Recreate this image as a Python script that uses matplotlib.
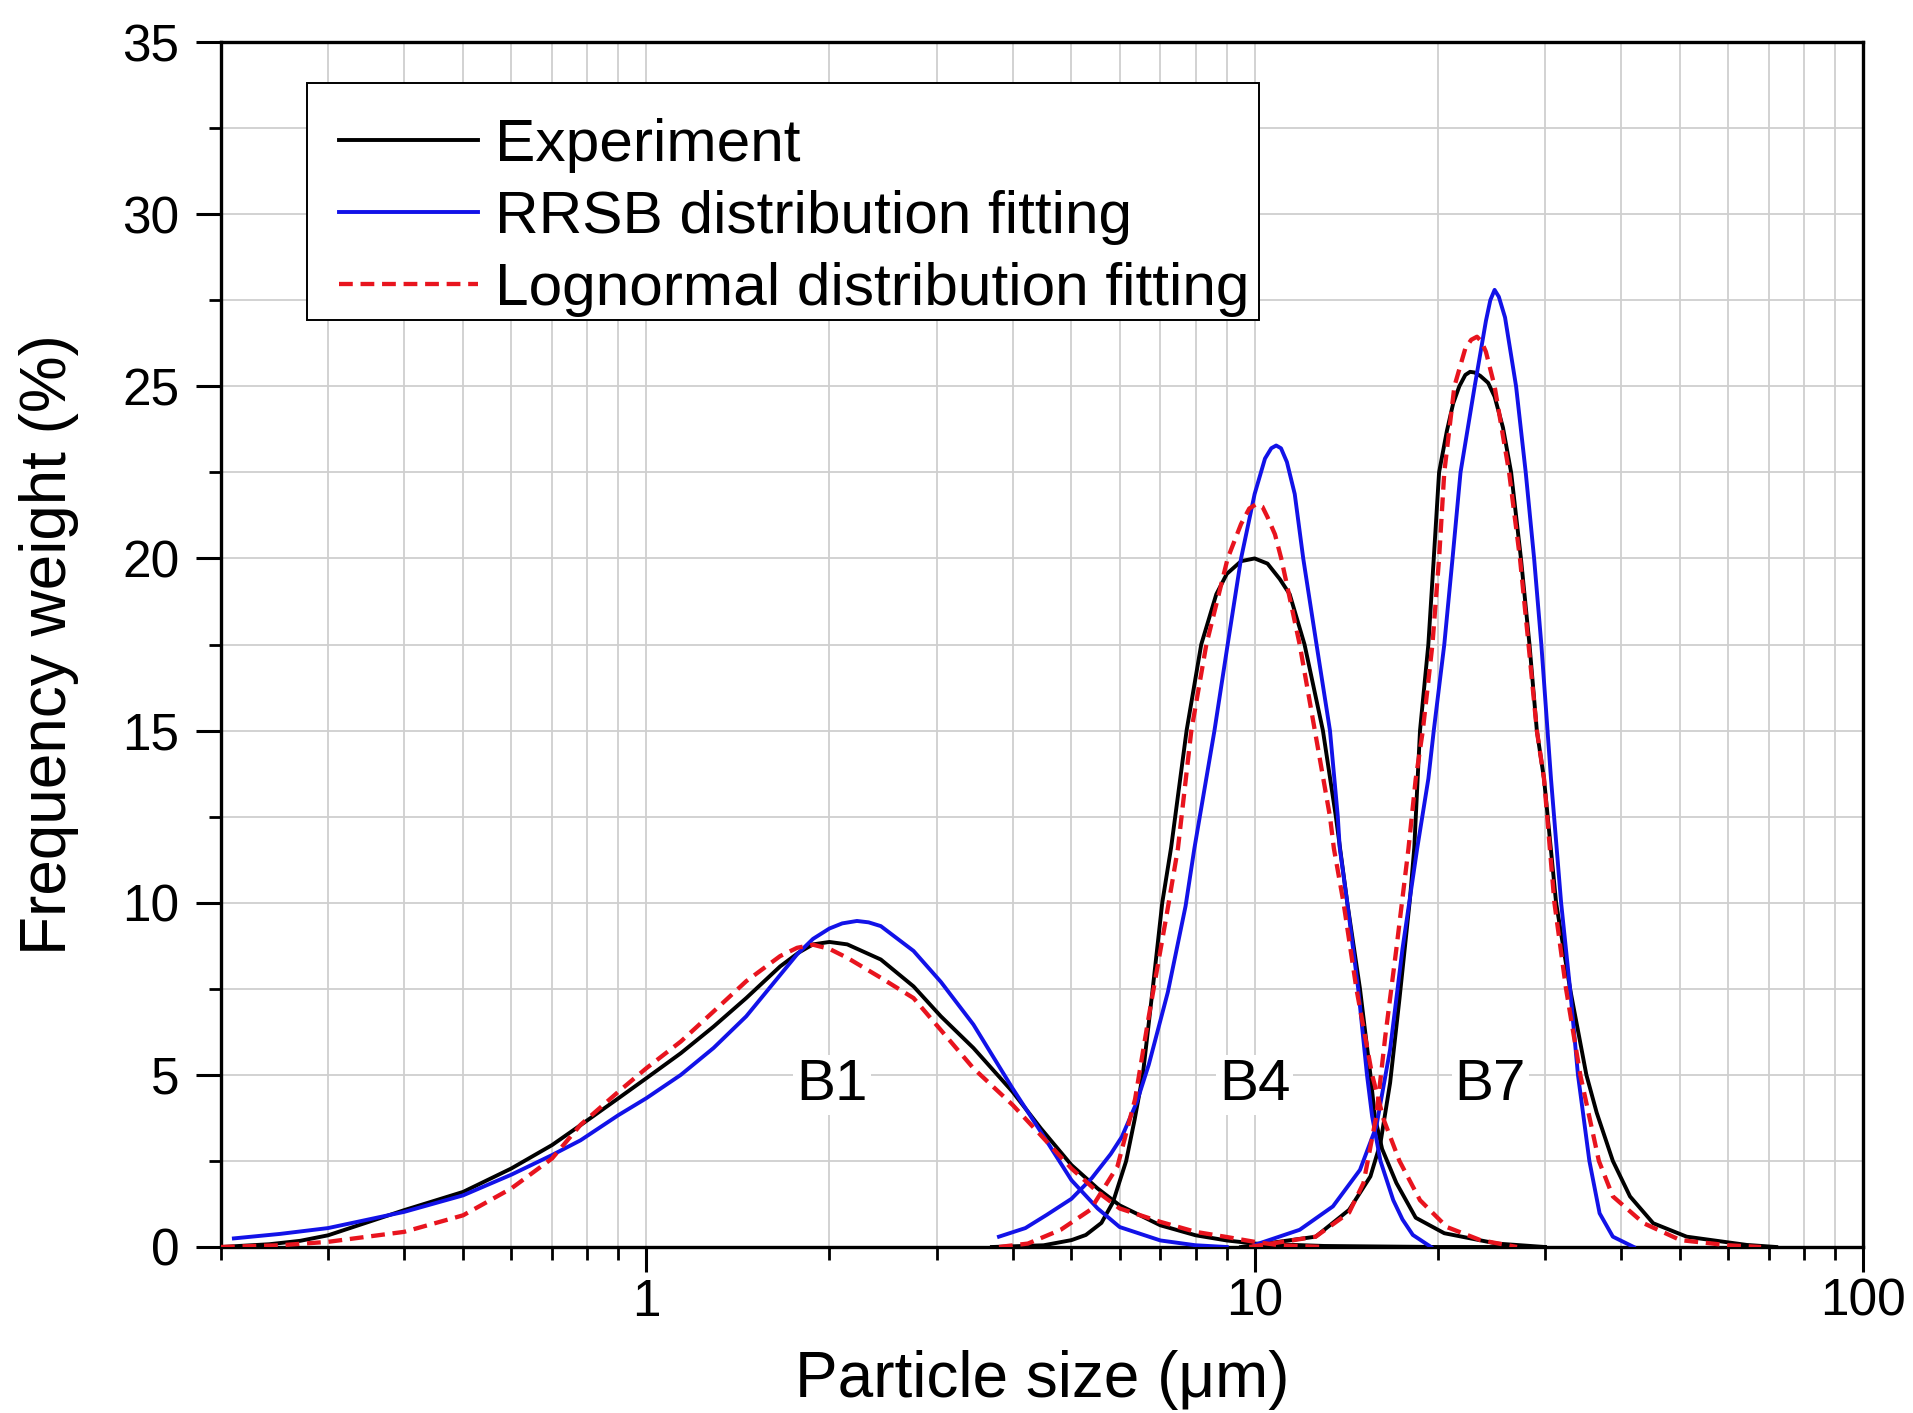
import matplotlib
matplotlib.use("Agg")
import matplotlib.pyplot as plt
from matplotlib.patches import Rectangle
from matplotlib.ticker import LogLocator, FixedLocator, NullFormatter, FuncFormatter, MultipleLocator

# ---------------- data ----------------
# Experiment (black)
b1_exp_x = [0.20, 0.24, 0.27, 0.30, 0.40, 0.50, 0.60, 0.70, 0.78, 0.90, 1.00, 1.14, 1.29, 1.46, 1.66, 1.78, 1.88, 2.00, 2.14, 2.43, 2.75, 3.05, 3.45, 4.00, 4.45, 5.00, 5.52, 6.00, 7.00, 8.00, 9.00, 10.0, 13.0, 20.0, 30.0]
b1_exp_y = [0.00, 0.08, 0.18, 0.34, 1.07, 1.60, 2.28, 2.96, 3.54, 4.32, 4.90, 5.63, 6.40, 7.23, 8.15, 8.55, 8.79, 8.86, 8.79, 8.35, 7.57, 6.70, 5.78, 4.51, 3.45, 2.38, 1.70, 1.21, 0.63, 0.34, 0.19, 0.10, 0.03, 0.00, 0.00]
b4_exp_x = [3.7, 4.5, 5.0, 5.28, 5.6, 5.85, 6.15, 6.35, 6.55, 6.8, 7.05, 7.29, 7.73, 8.17, 8.65, 9.0, 9.5, 10.0, 10.5, 11.0, 11.42, 12.08, 12.95, 13.6, 14.2, 14.9, 15.5, 15.76, 16.2, 17.1, 18.4, 20.5, 25.0, 30.0]
b4_exp_y = [0.0, 0.05, 0.2, 0.35, 0.7, 1.3, 2.5, 3.7, 5.0, 7.5, 10.0, 11.6, 15.0, 17.5, 18.96, 19.55, 19.92, 20.0, 19.85, 19.4, 18.96, 17.5, 15.0, 12.5, 10.0, 7.5, 5.0, 3.8, 2.85, 1.86, 0.85, 0.4, 0.1, 0.0]
b7_exp_x = [9.5, 12.6, 14.3, 15.5, 16.1, 16.7, 17.3, 18.0, 18.3, 18.7, 19.3, 19.7, 20.1, 20.7, 21.2, 21.7, 22.2, 22.6, 23.0, 23.5, 24.2, 24.8, 25.6, 26.4, 27.4, 28.3, 29.1, 29.9, 31.3, 33.0, 35.1, 36.5, 38.8, 41.4, 45.2, 51.3, 64.4, 72.0]
b7_exp_y = [0.0, 0.3, 1.08, 2.05, 3.02, 4.77, 7.2, 10.1, 11.6, 15.0, 17.5, 20.0, 22.5, 23.7, 24.5, 25.0, 25.33, 25.42, 25.4, 25.3, 25.1, 24.7, 23.8, 22.5, 20.0, 17.5, 15.0, 13.6, 10.0, 7.5, 5.0, 3.9, 2.5, 1.47, 0.69, 0.3, 0.06, 0.0]

# RRSB distribution fitting (blue)
b1_rrsb_x = [0.21, 0.25, 0.30, 0.40, 0.50, 0.60, 0.70, 0.78, 0.90, 1.00, 1.14, 1.29, 1.46, 1.66, 1.77, 1.88, 2.00, 2.10, 2.22, 2.32, 2.43, 2.75, 3.05, 3.45, 4.00, 4.45, 5.00, 5.52, 6.00, 7.00, 8.00, 9.00]
b1_rrsb_y = [0.25, 0.38, 0.55, 1.02, 1.50, 2.10, 2.67, 3.10, 3.83, 4.32, 5.00, 5.78, 6.70, 7.90, 8.50, 8.95, 9.25, 9.40, 9.47, 9.43, 9.32, 8.60, 7.70, 6.46, 4.61, 3.35, 1.94, 1.12, 0.58, 0.19, 0.05, 0.00]
b4_rrsb_x = [3.8, 4.2, 4.55, 5.0, 5.4, 5.8, 6.05, 6.4, 6.7, 7.2, 7.7, 7.96, 8.59, 9.03, 9.5, 10.0, 10.4, 10.65, 10.85, 11.05, 11.3, 11.64, 12.02, 12.64, 13.3, 13.7, 13.8, 14.2, 14.8, 15.3, 15.6, 16.1, 16.9, 17.5, 18.2, 19.5]
b4_rrsb_y = [0.3, 0.55, 0.93, 1.4, 2.0, 2.7, 3.2, 4.2, 5.3, 7.4, 9.9, 11.57, 15.0, 17.5, 20.0, 21.87, 22.9, 23.2, 23.28, 23.2, 22.8, 21.87, 20.0, 17.5, 15.0, 12.5, 11.6, 10.0, 7.5, 5.0, 3.8, 2.5, 1.36, 0.8, 0.35, 0.0]
b7_rrsb_x = [10.0, 11.86, 13.45, 14.9, 15.85, 16.7, 17.5, 18.5, 19.3, 19.7, 20.5, 21.15, 21.8, 23.0, 24.0, 24.4, 24.8, 25.2, 25.8, 26.9, 27.9, 28.8, 29.6, 30.3, 30.7, 31.9, 33.0, 34.0, 35.5, 36.9, 38.8, 42.0]
b7_rrsb_y = [0.06, 0.5, 1.18, 2.24, 3.5, 5.74, 8.66, 11.57, 13.6, 15.0, 17.5, 20.0, 22.5, 25.0, 26.9, 27.5, 27.8, 27.6, 27.0, 25.0, 22.5, 20.0, 17.5, 15.0, 13.6, 10.0, 7.5, 5.0, 2.5, 0.98, 0.3, 0.0]

# Lognormal distribution fitting (red dashed)
b1_logn_x = [0.20, 0.25, 0.30, 0.40, 0.50, 0.60, 0.70, 0.78, 0.90, 1.00, 1.14, 1.29, 1.46, 1.66, 1.77, 1.88, 2.00, 2.14, 2.43, 2.75, 3.05, 3.45, 4.00, 4.45, 5.00, 5.52, 6.00, 7.00, 8.00, 9.00, 10.0, 11.0, 13.0]
b1_logn_y = [0.00, 0.05, 0.15, 0.44, 0.92, 1.70, 2.57, 3.55, 4.51, 5.19, 5.97, 6.84, 7.72, 8.45, 8.69, 8.78, 8.66, 8.40, 7.82, 7.23, 6.30, 5.19, 4.13, 3.25, 2.28, 1.60, 1.12, 0.73, 0.44, 0.29, 0.15, 0.05, 0.00]
b4_logn_x = [3.8, 4.24, 4.8, 5.37, 5.95, 6.36, 6.7, 7.16, 7.48, 7.87, 8.33, 9.03, 9.5, 9.8, 10.07, 10.3, 10.5, 10.8, 11.06, 11.86, 12.56, 13.3, 13.5, 14.0, 14.7, 15.6, 16.3, 17.3, 18.7, 20.7, 23.5, 27.0]
b4_logn_y = [0.0, 0.1, 0.5, 1.08, 2.34, 4.29, 6.7, 9.6, 11.57, 15.0, 17.5, 20.0, 21.0, 21.45, 21.58, 21.5, 21.2, 20.7, 20.0, 17.5, 15.0, 12.5, 11.57, 10.0, 7.5, 5.0, 3.7, 2.5, 1.36, 0.58, 0.2, 0.0]
b7_logn_x = [9.8, 12.6, 14.3, 15.1, 15.85, 16.4, 17.1, 17.9, 18.4, 18.9, 19.6, 20.1, 20.5, 21.3, 22.2, 22.7, 23.2, 23.6, 24.0, 24.8, 26.2, 27.3, 28.2, 29.1, 29.9, 31.1, 32.5, 34.3, 36.8, 38.8, 43.6, 50.1, 60.0, 68.0]
b7_logn_y = [0.0, 0.3, 1.0, 1.86, 3.8, 6.13, 8.66, 11.57, 13.6, 15.0, 17.5, 20.0, 22.5, 25.0, 26.1, 26.35, 26.44, 26.3, 26.0, 25.0, 22.5, 20.0, 17.5, 15.0, 13.6, 10.0, 7.5, 5.0, 2.5, 1.47, 0.69, 0.2, 0.05, 0.0]

series_names = ["Experiment", "RRSB distribution fitting", "Lognormal distribution fitting"]
sample_labels = ["B1", "B4", "B7"]
sample_label_x = [2.02, 10.0, 24.4]
sample_label_y = [4.7, 4.7, 4.7]
x_major = [1, 10, 100]
y_major = [0, 5, 10, 15, 20, 25, 30, 35]

# ---------------- figure ----------------
plt.rcParams['font.family'] = ['Liberation Sans', 'DejaVu Sans']
fig = plt.figure(figsize=(19.13, 14.13), dpi=100)
ax = fig.add_axes([221/1913, 1-1247/1413, (1863-221)/1913, (1247-42)/1413])

ax.set_xscale('log')
ax.set_xlim(0.2, 100)
ax.set_ylim(0, 35)

styles = [
    dict(color='#000000', lw=2.8, ls='-'),
    dict(color='#1212e8', lw=2.8, ls='-'),
    dict(color='#e8141e', lw=3.1, ls=(0, (3.2, 1.8))),
]
groups = [
    [(b1_exp_x, b1_exp_y), (b4_exp_x, b4_exp_y), (b7_exp_x, b7_exp_y)],
    [(b1_rrsb_x, b1_rrsb_y), (b4_rrsb_x, b4_rrsb_y), (b7_rrsb_x, b7_rrsb_y)],
    [(b1_logn_x, b1_logn_y), (b4_logn_x, b4_logn_y), (b7_logn_x, b7_logn_y)],
]
handles = []
for name, st, grp in zip(series_names, styles, groups):
    for i, (xs, ys) in enumerate(grp):
        ln, = ax.plot(xs, ys, zorder=3, solid_joinstyle='round', dash_capstyle='butt', **st)
        if i == 0:
            ln.set_label(name)
            handles.append(ln)

for lab, lx, ly in zip(sample_labels, sample_label_x, sample_label_y):
    ax.text(lx, ly, lab, fontsize=42, ha='center', va='center', zorder=2.5,
            bbox=dict(facecolor='white', edgecolor='none', pad=2))

# ticks
ax.xaxis.set_major_locator(FixedLocator(x_major))
ax.xaxis.set_major_formatter(FuncFormatter(lambda v, p: f"{v:g}"))
ax.xaxis.set_minor_locator(LogLocator(base=10, subs=[2, 3, 4, 5, 6, 7, 8, 9], numticks=20))
ax.xaxis.set_minor_formatter(NullFormatter())
ax.yaxis.set_major_locator(FixedLocator(y_major))
ax.yaxis.set_minor_locator(MultipleLocator(2.5))

ax.tick_params(which='major', direction='out', length=18, width=2.2, labelsize=37, pad=4)
ax.tick_params(which='minor', direction='out', length=9, width=2.0)
ax.tick_params(axis='y', which='major', pad=12)
ax.tick_params(top=False, right=False, which='both')

for sp in ax.spines.values():
    sp.set_linewidth(2.4)

ax.grid(True, which='both', color='#cfcfcf', lw=1.3)
ax.set_axisbelow(True)

ax.set_xlabel("Particle size (μm)", fontsize=46, labelpad=17)
ax.set_ylabel("Frequency weight (%)", fontsize=46, labelpad=31)

# legend frame drawn separately for exact placement
x0 = (307 - 221) / 1642
x1 = (1259 - 221) / 1642
y1 = (1247 - 83) / 1205
y0 = (1247 - 320) / 1205
ax.add_patch(Rectangle((x0, y0), x1 - x0, y1 - y0, transform=ax.transAxes,
                       facecolor='white', edgecolor='black', lw=1.4, zorder=4))

leg = ax.legend(handles=handles, loc='upper left',
                bbox_to_anchor=((339 - 221) / 1642, (1247 - 118) / 1205),
                fontsize=43.5, frameon=False,
                handlelength=2.3, handletextpad=0.28, labelspacing=0.28,
                borderpad=0.0, borderaxespad=0.0)
leg.set_zorder(5)

fig.savefig("out.png", dpi=100)
